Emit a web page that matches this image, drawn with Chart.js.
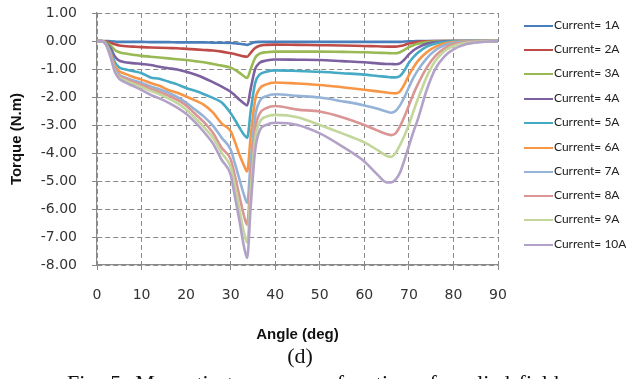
<!DOCTYPE html>
<html>
<head>
<meta charset="utf-8">
<script src="https://cdn.jsdelivr.net/npm/chart.js@4.4.1/dist/chart.umd.min.js"></script>
<style>
  html, body { margin: 0; padding: 0; background: #fff; }
  #wrap { position: relative; width: 626px; height: 379px; overflow: hidden; }
  #grafico { position: absolute; left: 0; top: 0; }
  #legenda { position: absolute; left: 524px; top: 0; font-family: Lato, sans-serif; font-size: 12px; color: #222; }
  .item { position: absolute; left: 0; height: 16px; line-height: 16px; white-space: nowrap; }
  .linha { display: inline-block; width: 29px; height: 2.5px; vertical-align: middle; margin-right: 1px; }
  #letra { position: absolute; left: 0; width: 600px; top: 343px; text-align: center; font-family: "Liberation Serif", serif; font-size: 22px; color: #111; }
  #legendaFig { position: absolute; left: 67px; top: 370px; font-family: "Liberation Serif", serif; font-size: 22px; color: #111; white-space: nowrap; word-spacing: 3px; }
</style>
</head>
<body>
<div id="wrap">
  <canvas id="grafico" width="626" height="379"></canvas>
  <div id="legenda"></div>
  <div id="letra">(d)</div>
  <div id="legendaFig">Fig. 5.  Magnetic torque as a function of applied field</div>
</div>
<script>
// Ângulo (graus)
const angulos = [0, 1, 2, 3, 4, 5, 6, 8,
  10, 12, 14, 16, 18, 20, 22, 24,
  26, 28, 30, 31, 32, 33, 33.7, 34.5,
  35.5, 36.5, 38, 40, 45, 50, 55, 60,
  63, 65, 66, 67, 68, 69, 70, 71,
  72, 74, 76, 78, 80, 83, 86, 90];

// Torque (N.m) para cada corrente
const corrente1 = [0, 0, 0, -0.01, -0.02, -0.03, -0.03, -0.03,
  -0.03, -0.04, -0.04, -0.04, -0.05, -0.05, -0.05, -0.05,
  -0.06, -0.06, -0.07, -0.08, -0.1, -0.12, -0.14, -0.09,
  -0.04, -0.03, -0.03, -0.03, -0.03, -0.03, -0.03, -0.03,
  -0.03, -0.03, -0.03, -0.03, -0.03, -0.02, -0.01, -0.01,
  0, 0, 0, 0, 0, 0, 0, 0];
const corrente2 = [0, 0, -0.02, -0.06, -0.12, -0.16, -0.18, -0.2,
  -0.22, -0.23, -0.24, -0.25, -0.26, -0.28, -0.3, -0.32,
  -0.34, -0.38, -0.44, -0.47, -0.51, -0.55, -0.56, -0.42,
  -0.25, -0.17, -0.14, -0.13, -0.14, -0.15, -0.16, -0.18,
  -0.19, -0.2, -0.2, -0.2, -0.18, -0.14, -0.09, -0.06,
  -0.03, -0.01, 0, 0, 0, 0, 0, 0];
const corrente3 = [0, 0, -0.04, -0.15, -0.32, -0.4, -0.44, -0.49,
  -0.53, -0.56, -0.59, -0.62, -0.65, -0.68, -0.72, -0.76,
  -0.82, -0.88, -0.95, -1.03, -1.14, -1.26, -1.32, -1.0,
  -0.6, -0.45, -0.4, -0.38, -0.38, -0.38, -0.39, -0.4,
  -0.42, -0.43, -0.44, -0.44, -0.4, -0.32, -0.22, -0.15,
  -0.1, -0.04, -0.01, 0, 0, 0, 0, 0];
const corrente4 = [0, 0, -0.06, -0.25, -0.55, -0.7, -0.75, -0.79,
  -0.82, -0.86, -0.92, -0.97, -1.02, -1.1, -1.2, -1.32,
  -1.47, -1.63, -1.81, -1.95, -2.1, -2.23, -2.3, -1.7,
  -1.0, -0.78, -0.7, -0.66, -0.67, -0.68, -0.72, -0.76,
  -0.8, -0.82, -0.82, -0.83, -0.8, -0.66, -0.48, -0.34,
  -0.24, -0.1, -0.04, -0.01, 0, 0, 0, 0];
const corrente5 = [0, 0, -0.08, -0.35, -0.75, -0.95, -1.0, -1.07,
  -1.15, -1.3, -1.35, -1.45, -1.55, -1.68, -1.78, -1.9,
  -2.03, -2.2, -2.58, -2.83, -3.1, -3.35, -3.46, -2.5,
  -1.5, -1.2, -1.1, -1.05, -1.07, -1.1, -1.15, -1.2,
  -1.25, -1.28, -1.3, -1.3, -1.25, -1.05, -0.78, -0.58,
  -0.42, -0.2, -0.09, -0.04, -0.01, 0, 0, 0];
const corrente6 = [0, 0, -0.1, -0.42, -0.88, -1.08, -1.15, -1.28,
  -1.38, -1.5, -1.6, -1.75, -1.85, -1.98, -2.12, -2.28,
  -2.55, -2.95, -3.22, -3.62, -4.07, -4.45, -4.66, -3.4,
  -2.1, -1.7, -1.55, -1.48, -1.52, -1.57, -1.65, -1.74,
  -1.8, -1.84, -1.86, -1.87, -1.8, -1.55, -1.22, -0.95,
  -0.72, -0.4, -0.2, -0.09, -0.04, -0.01, 0, 0];
const corrente7 = [0, 0, -0.11, -0.47, -0.98, -1.2, -1.28, -1.4,
  -1.5, -1.62, -1.72, -1.85, -2.0, -2.2, -2.45, -2.7,
  -3.02, -3.46, -3.88, -4.4, -4.96, -5.5, -5.78, -4.3,
  -2.7, -2.15, -1.97, -1.9, -1.96, -2.02, -2.15, -2.3,
  -2.42, -2.52, -2.56, -2.5, -2.3, -2.0, -1.65, -1.32,
  -1.05, -0.62, -0.32, -0.15, -0.07, -0.02, 0, 0];
const corrente8 = [0, 0, -0.12, -0.5, -1.03, -1.25, -1.33, -1.45,
  -1.57, -1.7, -1.82, -1.95, -2.1, -2.3, -2.6, -2.9,
  -3.28, -3.82, -4.22, -4.85, -5.56, -6.25, -6.56, -4.9,
  -3.15, -2.6, -2.4, -2.32, -2.45, -2.52, -2.72, -3.0,
  -3.2, -3.32, -3.36, -3.3, -3.05, -2.7, -2.3, -1.9,
  -1.55, -0.95, -0.52, -0.26, -0.12, -0.04, -0.01, 0];
const corrente9 = [0, 0, -0.12, -0.52, -1.07, -1.3, -1.38, -1.52,
  -1.65, -1.78, -1.9, -2.05, -2.22, -2.45, -2.75, -3.08,
  -3.45, -4.0, -4.5, -5.2, -6.04, -6.85, -7.2, -5.4,
  -3.5, -2.9, -2.7, -2.64, -2.72, -3.0, -3.3, -3.62,
  -3.9, -4.1, -4.14, -4.0, -3.72, -3.38, -2.98, -2.52,
  -2.08, -1.28, -0.7, -0.36, -0.18, -0.06, -0.02, 0];
const corrente10 = [0, 0, -0.13, -0.55, -1.1, -1.35, -1.45, -1.6,
  -1.75, -1.92, -2.05, -2.2, -2.38, -2.6, -2.9, -3.25,
  -3.65, -4.25, -4.78, -5.6, -6.45, -7.35, -7.75, -5.9,
  -3.9, -3.2, -3.0, -2.92, -3.0, -3.3, -3.76, -4.3,
  -4.78, -5.05, -5.05, -4.95, -4.7, -4.25, -3.75, -3.25,
  -2.8, -1.75, -0.98, -0.55, -0.3, -0.11, -0.04, 0];

const nomes = ['Current= 1A', 'Current= 2A', 'Current= 3A', 'Current= 4A', 'Current= 5A',
  'Current= 6A', 'Current= 7A', 'Current= 8A', 'Current= 9A', 'Current= 10A'];
const series = [corrente1, corrente2, corrente3, corrente4, corrente5,
  corrente6, corrente7, corrente8, corrente9, corrente10];
const cores = ['#4A7EBB', '#BE4B48', '#98B954', '#7D60A0', '#46AAC5',
  '#F79646', '#95B3D7', '#D99694', '#C3D69B', '#B3A2C7'];

const yTicks = [1, 0, -1, -2, -3, -4, -5, -6, -7, -8];
const xTicks = [0, 10, 20, 30, 40, 50, 60, 70, 80, 90];

const fonteTicks = "'DejaVu Sans', sans-serif";
const fonteTitulo = "'Liberation Sans', Arial, sans-serif";

const ctx = document.getElementById('grafico').getContext('2d');

const grafico = new Chart(ctx, {
    type: 'line',
    data: {
        datasets: series.map((valores, i) => ({
            label: nomes[i],
            data: valores.map((v, j) => ({ x: angulos[j], y: v })),
            borderColor: cores[i],
            backgroundColor: cores[i],
            borderWidth: 2.6,
            pointRadius: 0,
            fill: false,
            cubicInterpolationMode: 'monotone',
            order: series.length - i
        }))
    },
    options: {
        responsive: false,
        animation: false,
        devicePixelRatio: 1,
        layout: { padding: { left: 0, right: 128, top: 13, bottom: 34 } },
        plugins: {
            legend: { display: false },
            tooltip: { enabled: false }
        },
        scales: {
            x: {
                type: 'linear',
                min: 0,
                max: 90,
                afterBuildTicks: (s) => { s.ticks = xTicks.map(v => ({ value: v })); },
                afterFit: (s) => { s.height = 80; },
                ticks: {
                    padding: 17,
                    color: '#333',
                    font: { family: fonteTicks, size: 14 }
                },
                grid: {
                    color: '#8a8a8a',
                    lineWidth: 1,
                    tickLength: 5,
                    tickColor: '#8a8a8a'
                },
                border: { display: true, color: '#8a8a8a', width: 1.2, dash: [5, 3] },
                title: {
                    display: true,
                    text: 'Angle (deg)',
                    color: '#111',
                    font: { family: fonteTitulo, size: 15, weight: 'bold' },
                    padding: { top: 0, bottom: 1 }
                }
            },
            y: {
                min: -8,
                max: 1,
                afterBuildTicks: (s) => { s.ticks = yTicks.map(v => ({ value: v })); },
                afterFit: (s) => { s.width = 97; s.paddingTop = 0; s.paddingBottom = 0; },
                ticks: {
                    padding: 15,
                    color: '#333',
                    font: { family: fonteTicks, size: 14 },
                    callback: (v) => Number(v).toFixed(2)
                },
                grid: {
                    color: '#8a8a8a',
                    lineWidth: 1,
                    tickLength: 5,
                    tickColor: '#8a8a8a'
                },
                border: { display: true, color: '#8a8a8a', width: 1.2, dash: [5, 3] },
                title: {
                    display: true,
                    text: 'Torque (N.m)',
                    color: '#111',
                    font: { family: fonteTitulo, size: 15, weight: 'bold' },
                    padding: { top: 8, bottom: 0 }
                }
            }
        }
    }
});

// Legenda em HTML, feita a partir dos datasets
const legenda = document.getElementById('legenda');
const centrosLegenda = [25, 49, 73, 98, 122, 147, 171, 195, 219, 244];
grafico.data.datasets.forEach((ds, i) => {
    const item = document.createElement('div');
    item.className = 'item';
    item.style.top = (centrosLegenda[i] - 8) + 'px';
    const linha = document.createElement('span');
    linha.className = 'linha';
    linha.style.background = ds.borderColor;
    item.appendChild(linha);
    item.appendChild(document.createTextNode(ds.label));
    legenda.appendChild(item);
});
</script>
</body>
</html>
